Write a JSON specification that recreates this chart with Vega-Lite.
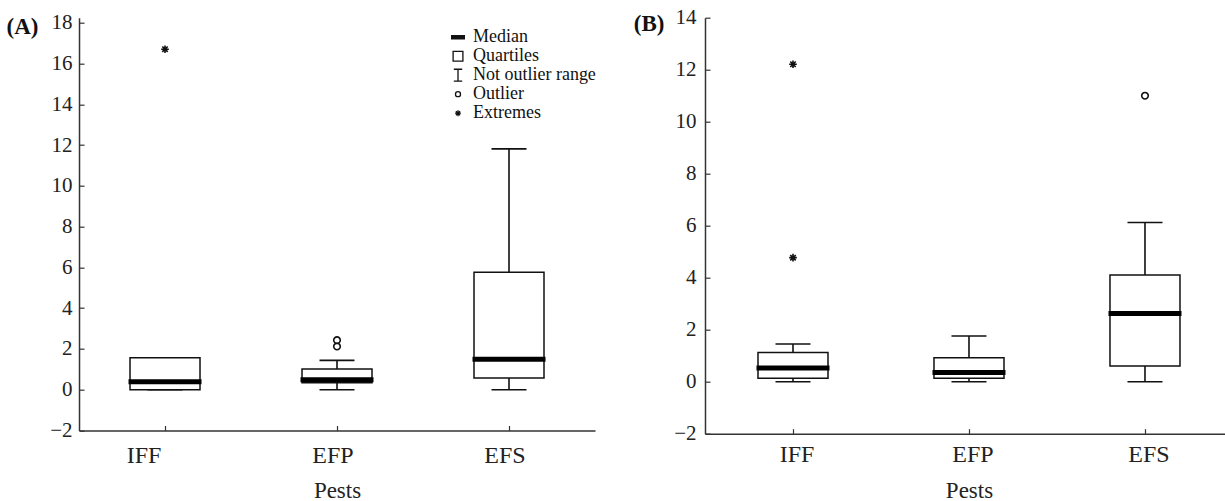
{
  "$schema": "https://vega.github.io/schema/vega-lite/v6.json",
  "padding": {"left": 6, "top": 6.7, "right": 0, "bottom": 0},
  "background": "white",
  "config": {
    "view": {"stroke": null},
    "font": "Liberation Serif",
    "axis": {
      "domainColor": "#333", "domainWidth": 1.5, "tickColor": "#333", "tickWidth": 1.2, "tickSize": -5,
      "grid": false, "labelFont": "Liberation Serif", "titleFont": "Liberation Serif",
      "labelColor": "#222", "titleColor": "#222", "titleFontWeight": "normal"
    }
  },
  "datasets": {
    "boxA": [
      {"cat": "IFF", "min": 0, "q1": 0, "med": 0.39, "q3": 1.57, "max": 1.57},
      {"cat": "EFP", "min": 0, "q1": 0.34, "med": 0.49, "q3": 1.01, "max": 1.44},
      {"cat": "EFS", "min": 0, "q1": 0.57, "med": 1.49, "q3": 5.76, "max": 11.81}
    ],
    "ptsA": [
      {"cat": "IFF", "value": 16.7, "kind": "Extremes"},
      {"cat": "EFP", "value": 2.12, "kind": "Outlier"},
      {"cat": "EFP", "value": 2.43, "kind": "Outlier"}
    ],
    "boxB": [
      {"cat": "IFF", "min": 0, "q1": 0.13, "med": 0.53, "q3": 1.12, "max": 1.45},
      {"cat": "EFP", "min": 0, "q1": 0.13, "med": 0.35, "q3": 0.92, "max": 1.76},
      {"cat": "EFS", "min": 0, "q1": 0.6, "med": 2.62, "q3": 4.1, "max": 6.12}
    ],
    "ptsB": [
      {"cat": "IFF", "value": 12.21, "kind": "Extremes"},
      {"cat": "IFF", "value": 4.77, "kind": "Extremes"},
      {"cat": "EFS", "value": 11.0, "kind": "Outlier"}
    ]
  },
  "resolve": {"scale": {"shape": "independent"}, "legend": {"shape": "independent"}},
  "spacing": 37,
  "hconcat": [
    {
      "width": 516, "height": 412.8,
      "data": {"name": "boxA"},
      "encoding": {
        "x": {"field": "cat", "type": "nominal",
          "scale": {"domain": ["IFF", "EFP", "EFS"], "paddingInner": 0, "paddingOuter": 0},
          "axis": {"title": "Pests", "labelAngle": 0, "labelFont": "Liberation Serif", "labelFontSize": 24, "labelBaseline": "alphabetic",
            "labelPadding": 37,
            "labelOffset": {"condition": {"test": "datum.value === 'IFF'", "value": -21}, "value": -4},
            "titleFont": "Liberation Serif", "titleFontSize": 23, "titleBaseline": "alphabetic", "titleY": 67}
        }
      },
      "layer": [
        {"mark": {"type": "rule", "color": "#111", "strokeWidth": 1.6},
          "encoding": {
            "y": {"field": "min", "type": "quantitative", "scale": {"domain": [-2, 18.245], "nice": false, "zero": false},
              "axis": {"values": [-2, 0, 2, 4, 6, 8, 10, 12, 14, 16, 18], "labelFont": "Liberation Serif", "labelFontSize": 21, "labelPadding": 12,
                "title": "(A)", "titleFont": "Liberation Serif", "titleAngle": 0, "titleAlign": "right", "titleBaseline": "alphabetic",
                "titleX": -41, "titleY": 15.5, "titleFontSize": 23, "titleFontWeight": "bold", "titleColor": "#111"}},
            "y2": {"field": "max"}
          }},
        {"mark": {"type": "tick", "size": 35, "thickness": 1.6, "color": "#111", "opacity": 1},
          "encoding": {"y": {"field": "min", "type": "quantitative"}}},
        {"mark": {"type": "tick", "size": 35, "thickness": 1.6, "color": "#111", "opacity": 1},
          "encoding": {"y": {"field": "max", "type": "quantitative"}}},
        {"mark": {"type": "bar", "size": 70, "fill": "white", "stroke": "#111", "strokeWidth": 1.5, "opacity": 1},
          "encoding": {"y": {"field": "q1", "type": "quantitative"}, "y2": {"field": "q3"}}},
        {"mark": {"type": "tick", "size": 73, "thickness": 5, "color": "#000", "opacity": 1},
          "encoding": {"y": {"field": "med", "type": "quantitative"}}},
        {"data": {"name": "ptsA"},
          "mark": {"type": "point", "filled": false, "size": 330, "stroke": "#111", "strokeWidth": 1.6, "opacity": 1},
          "encoding": {
            "y": {"field": "value", "type": "quantitative"},
            "shape": {"field": "kind", "type": "nominal",
              "scale": {"domain": ["Median", "Quartiles", "Not outlier range", "Outlier", "Extremes"],
                "range": ["M-1,-0.22H1M-1,-0.08H1M-1,0.08H1M-1,0.22H1", "M-0.7,-0.7H0.7V0.7H-0.7Z", "M-0.6,-0.85H0.6M0,-0.85V0.85M-0.6,0.85H0.6",
                  "M0.36,0A0.36,0.36 0 1,1 -0.36,0A0.36,0.36 0 1,1 0.36,0Z",
                  "M-0.42,0H0.42M0,-0.42V0.42M-0.3,-0.3L0.3,0.3M-0.3,0.3L0.3,-0.3"]},
              "legend": {"title": null, "orient": "none", "legendX": 370, "legendY": 10.5, "symbolSize": 196,
                "symbolStrokeColor": "#111", "symbolFillColor": "transparent", "symbolStrokeWidth": 1.3,
                "labelFont": "Liberation Serif", "labelFontSize": 18, "labelColor": "#111", "labelOffset": 6,
                "rowPadding": 1, "padding": 0, "labelLimit": 300}
            }
          }}
      ]
    },
    {
      "width": 528, "height": 416,
      "data": {"name": "boxB"},
      "encoding": {
        "x": {"field": "cat", "type": "nominal",
          "scale": {"domain": ["IFF", "EFP", "EFS"], "paddingInner": 0, "paddingOuter": 0},
          "axis": {"title": "Pests", "labelAngle": 0, "labelFont": "Liberation Serif", "labelFontSize": 24, "labelBaseline": "alphabetic",
            "labelPadding": 33, "labelOffset": 4,
            "titleFont": "Liberation Serif", "titleFontSize": 23, "titleBaseline": "alphabetic", "titleY": 64}
        }
      },
      "layer": [
        {"mark": {"type": "rule", "color": "#111", "strokeWidth": 1.6},
          "encoding": {
            "y": {"field": "min", "type": "quantitative", "scale": {"domain": [-2, 14], "nice": false, "zero": false},
              "axis": {"values": [-2, 0, 2, 4, 6, 8, 10, 12, 14], "labelFont": "Liberation Serif", "labelFontSize": 21, "labelPadding": 14,
                "title": "(B)", "titleFont": "Liberation Serif", "titleAngle": 0, "titleAlign": "right", "titleBaseline": "alphabetic",
                "titleX": -41, "titleY": 13, "titleFontSize": 23, "titleFontWeight": "bold", "titleColor": "#111"}},
            "y2": {"field": "max"}
          }},
        {"mark": {"type": "tick", "size": 35, "thickness": 1.6, "color": "#111", "opacity": 1},
          "encoding": {"y": {"field": "min", "type": "quantitative"}}},
        {"mark": {"type": "tick", "size": 35, "thickness": 1.6, "color": "#111", "opacity": 1},
          "encoding": {"y": {"field": "max", "type": "quantitative"}}},
        {"mark": {"type": "bar", "size": 70, "fill": "white", "stroke": "#111", "strokeWidth": 1.5, "opacity": 1},
          "encoding": {"y": {"field": "q1", "type": "quantitative"}, "y2": {"field": "q3"}}},
        {"mark": {"type": "tick", "size": 73, "thickness": 5, "color": "#000", "opacity": 1},
          "encoding": {"y": {"field": "med", "type": "quantitative"}}},
        {"data": {"name": "ptsB"},
          "mark": {"type": "point", "filled": false, "size": 330, "stroke": "#111", "strokeWidth": 1.6, "opacity": 1},
          "encoding": {
            "y": {"field": "value", "type": "quantitative"},
            "shape": {"field": "kind", "type": "nominal",
              "scale": {"domain": ["Median", "Quartiles", "Not outlier range", "Outlier", "Extremes"],
                "range": ["M-1,-0.22H1M-1,-0.08H1M-1,0.08H1M-1,0.22H1", "M-0.7,-0.7H0.7V0.7H-0.7Z", "M-0.6,-0.85H0.6M0,-0.85V0.85M-0.6,0.85H0.6",
                  "M0.36,0A0.36,0.36 0 1,1 -0.36,0A0.36,0.36 0 1,1 0.36,0Z",
                  "M-0.42,0H0.42M0,-0.42V0.42M-0.3,-0.3L0.3,0.3M-0.3,0.3L0.3,-0.3"]},
              "legend": null
            }
          }}
      ]
    }
  ]
}
